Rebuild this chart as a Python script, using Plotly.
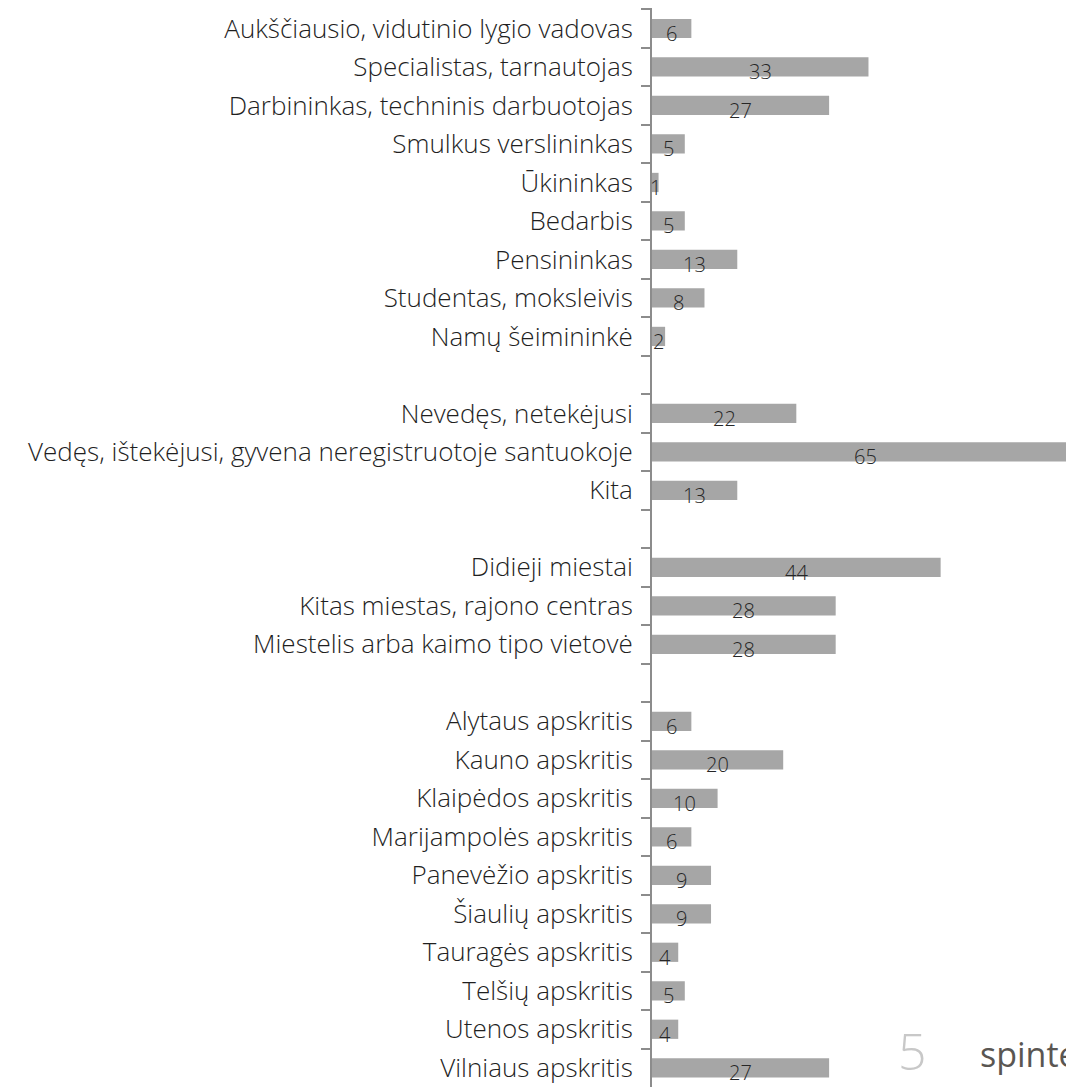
import plotly.graph_objects as go

categories = [
    "Aukščiausio, vidutinio lygio vadovas",
    "Specialistas, tarnautojas",
    "Darbininkas, techninis darbuotojas",
    "Smulkus verslininkas",
    "Ūkininkas",
    "Bedarbis",
    "Pensininkas",
    "Studentas, moksleivis",
    "Namų šeimininkė",
    " ",
    "Nevedęs, netekėjusi",
    "Vedęs, ištekėjusi, gyvena neregistruotoje santuokoje",
    "Kita",
    "  ",
    "Didieji miestai",
    "Kitas miestas, rajono centras",
    "Miestelis arba kaimo tipo vietovė",
    "   ",
    "Alytaus apskritis",
    "Kauno apskritis",
    "Klaipėdos apskritis",
    "Marijampolės apskritis",
    "Panevėžio apskritis",
    "Šiaulių apskritis",
    "Tauragės apskritis",
    "Telšių apskritis",
    "Utenos apskritis",
    "Vilniaus apskritis",
]
values = [6, 33, 27, 5, 1, 5, 13, 8, 2, None,
          22, 65, 13, None,
          44, 28, 28, None,
          6, 20, 10, 6, 9, 9, 4, 5, 4, 27]
labels = ["" if v is None else str(v) for v in values]
page_number = "5"
logo_text = "spinter"

FONT = "Open Sans"
fig = go.Figure()
fig.add_trace(go.Bar(
    y=categories, x=values, orientation="h",
    marker=dict(color="#a6a6a6", line=dict(width=0)),
    hoverinfo="skip",
))

for c, v, t in zip(categories, values, labels):
    if v is None:
        continue
    fig.add_annotation(x=v / 2, y=c, text=t, showarrow=False, yshift=-5,
                       xanchor="center", yanchor="middle",
                       font=dict(family=FONT, size=20, color="#262626", weight=300))

fig.add_annotation(xref="paper", yref="paper", x=0.618, y=0.0,
                   text=page_number, showarrow=False, xanchor="center", yanchor="bottom",
                   font=dict(family=FONT, size=50, color="#c8c8c8", weight=300))
fig.add_annotation(xref="paper", yref="paper", x=0.772, y=0.007,
                   text=logo_text, showarrow=False, xanchor="left", yanchor="bottom",
                   font=dict(family=FONT, size=34, color="#5a5652"))

fig.update_layout(
    width=1066, height=1079,
    margin=dict(l=644, r=0, t=0, b=0),
    plot_bgcolor="white", paper_bgcolor="white",
    bargap=0.5, showlegend=False,
    xaxis=dict(range=[0, 422 / 6.56], visible=False, fixedrange=True),
    yaxis=dict(
        type="category", categoryorder="array", categoryarray=categories,
        autorange="reversed", tickson="boundaries",
        ticks="outside", ticklen=9, tickcolor="#8c8c8c", tickwidth=2,
        showline=True, linecolor="#8c8c8c", linewidth=2,
        showgrid=False, zeroline=False, ticklabelstandoff=12,
        tickfont=dict(family=FONT, size=26, color="#1f1f1f", weight=300),
    ),
)

fig.write_html("out.html")
